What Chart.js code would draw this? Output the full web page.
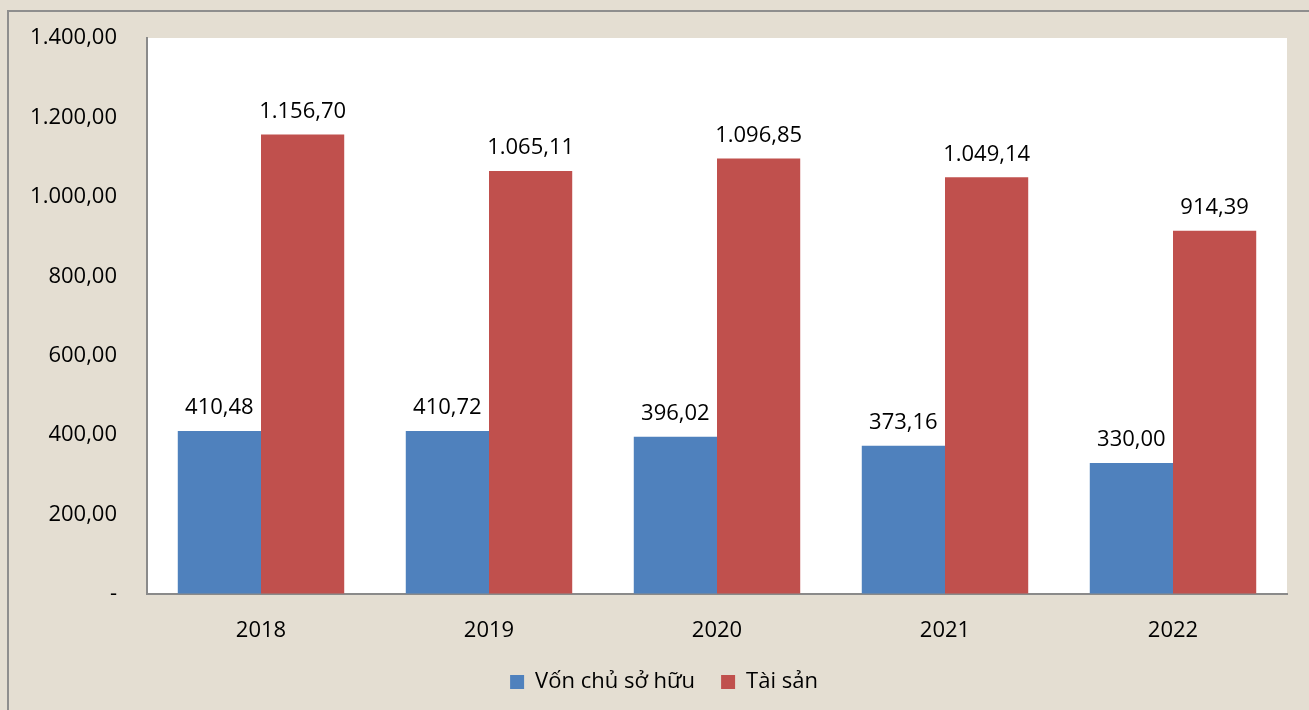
<!DOCTYPE html>
<html>
<head>
<meta charset="utf-8">
<script src="https://cdn.jsdelivr.net/npm/chart.js@4.4.1/dist/chart.umd.min.js"></script>
<style>
  html, body { margin: 0; padding: 0; overflow: hidden; background: #e4ded2; }
  #frame {
    position: absolute; left: 7px; top: 10px;
    border-left: 2px solid #8e8e8e; border-top: 2px solid #8e8e8e;
    width: 1300px; height: 698px;
  }
  canvas { display: block; }
</style>
</head>
<body>
<div id="frame"><canvas id="cv" width="1300" height="698"></canvas></div>
<script>
// du lieu
var years = ['2018', '2019', '2020', '2021', '2022'];
var vonChuSoHuu = [410.48, 410.72, 396.02, 373.16, 330.00];
var taiSan = [1156.70, 1065.11, 1096.85, 1049.14, 914.39];
var seriesNames = ['Vốn chủ sở hữu', 'Tài sản'];
var yMax = 1400;
var yStep = 200;

function fmtVN(v) {
  if (v === 0) return '-';
  var parts = v.toFixed(2).split('.');
  var intPart = parts[0].replace(/\B(?=(\d{3})+(?!\d))/g, '.');
  return intPart + ',' + parts[1];
}

// nen trang cho vung bieu do
var plotBg = {
  id: 'plotBg',
  beforeDraw: function(chart) {
    var a = chart.chartArea, c = chart.ctx;
    c.save();
    c.fillStyle = '#ffffff';
    c.fillRect(a.left, a.top, a.right - a.left, a.bottom - a.top);
    c.restore();
  }
};

// day legend sang phai mot chut (giong excel)
var legendShift = {
  id: 'legendShift',
  afterLayout: function(chart) {
    if (chart.legend) {
      chart.legend.left += 16;
      chart.legend.right += 16;
    }
  }
};

// nhan so lieu tren cot
var barLabels = {
  id: 'barLabels',
  afterDatasetsDraw: function(chart) {
    var c = chart.ctx;
    c.save();
    c.font = '22px "Open Sans"';
    c.fillStyle = '#000';
    c.textAlign = 'center';
    c.textBaseline = 'bottom';
    chart.data.datasets.forEach(function(ds, i) {
      chart.getDatasetMeta(i).data.forEach(function(bar, j) {
        c.fillText(fmtVN(ds.data[j]), bar.x, bar.y - 12);
      });
    });
    c.restore();
  }
};

var ctx = document.getElementById('cv');
var myChart = new Chart(ctx, {
  type: 'bar',
  plugins: [plotBg, legendShift, barLabels],
  data: {
    labels: years,
    datasets: [
      { label: seriesNames[0], data: vonChuSoHuu, backgroundColor: '#4f81bd' },
      { label: seriesNames[1], data: taiSan, backgroundColor: '#c0504d' }
    ]
  },
  options: {
    responsive: false,
    animation: false,
    layout: { padding: { top: 26, right: 22, left: 0, bottom: 7 } },
    datasets: { bar: { categoryPercentage: 0.73, barPercentage: 1.0 } },
    scales: {
      x: {
        grid: { display: false, drawTicks: false },
        border: { display: true, color: '#8a8a8a', width: 2 },
        ticks: { color: '#000', font: { family: 'Open Sans', size: 22 }, padding: 24 },
        afterFit: function(s) { s.height = 51; }
      },
      y: {
        min: 0, max: yMax,
        grid: { display: true, drawOnChartArea: false, drawTicks: true, tickLength: 30, tickColor: 'rgba(0,0,0,0)' },
        border: { display: true, color: '#8a8a8a', width: 2 },
        ticks: {
          stepSize: yStep, color: '#000', padding: 0,
          font: { family: 'Open Sans', size: 22 },
          callback: function(v) { return fmtVN(v); }
        },
        afterFit: function(s) { s.width = 138; }
      }
    },
    plugins: {
      tooltip: { enabled: false },
      legend: {
        position: 'bottom',
        labels: {
          boxWidth: 14, boxHeight: 14, padding: 26, color: '#000',
          font: { family: 'Open Sans', size: 22 }
        }
      }
    }
  }
});
</script>
</body>
</html>
